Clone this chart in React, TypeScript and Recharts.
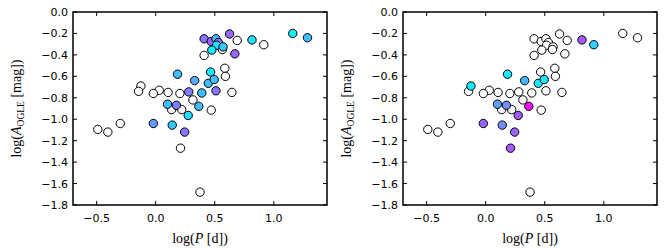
import React from 'react';
import { ScatterChart, Scatter, XAxis, YAxis, ReferenceArea } from 'recharts';

// log period [d]
const logP = [
  1.16, 1.285, 0.915, 0.815, 0.625, 0.69, 0.67, 0.41, 0.47, 0.51,
  0.53, 0.515, 0.57, 0.475, 0.565, 0.41, 0.465, 0.585, 0.59, 0.185,
  0.33, 0.445, 0.495, 0.51, 0.645, 0.39, 0.28, 0.205, 0.105, 0.03,
  -0.02, -0.125, -0.145, 0.315, 0.1, 0.175, 0.365, 0.47, 0.135, 0.22,
  0.275, -0.02, 0.14, 0.245, 0.21, 0.375, -0.49, -0.405, -0.3,
];
// log amplitude OGLE [mag]
const logA = [
  -0.2, -0.24, -0.305, -0.26, -0.205, -0.265, -0.39, -0.25, -0.275, -0.25,
  -0.285, -0.31, -0.325, -0.355, -0.35, -0.405, -0.56, -0.525, -0.6, -0.58,
  -0.64, -0.665, -0.63, -0.735, -0.75, -0.755, -0.745, -0.76, -0.75, -0.73,
  -0.76, -0.69, -0.74, -0.82, -0.86, -0.87, -0.88, -0.915, -0.91, -0.91,
  -0.965, -1.04, -1.055, -1.12, -1.27, -1.68, -1.095, -1.12, -1.04,
];
// colour-map parameter (cool map, 0 = cyan, 1 = magenta); null = open circle
const leftT: (number | null)[] = [
  0.08, 0.25, null, 0.12, 0.6, null, 0.6, 0.55, 0.62, 0.25,
  0.58, 0.1, 0.22, 0.08, null, null, 0.08, null, null, 0.25,
  0.33, 0.25, 0.25, 0.55, null, 0.25, 0.5, null, null, null,
  null, null, null, null, 0.25, 0.5, 0.25, null, null, null,
  0.15, 0.4, 0.22, 0.55, null, null, null, null, null,
];
const rightT: (number | null)[] = [
  null, null, 0.18, 0.65, null, null, null, null, null, null,
  null, null, null, null, null, null, null, null, null, 0.08,
  0.28, 0.1, 0.1, null, null, null, null, null, null, null,
  null, 0.08, null, null, 0.38, 0.45, 0.95, null, null, null,
  0.65, 0.6, 0.45, 0.6, 0.65, null, null, null, null,
];

const xTicks = [-0.5, 0, 0.5, 1.0];
const yTicks = [0, -0.2, -0.4, -0.6, -0.8, -1.0, -1.2, -1.4, -1.6, -1.8];
const X_DOMAIN: [number, number] = [-0.7, 1.45];
const Y_DOMAIN: [number, number] = [-1.8, 0];

const CHART_W = 335;
const CHART_H = 250;
const Y_AXIS_W = 73;
const X_AXIS_H = 45;
const MARGIN = { top: 12, right: 8, bottom: 0, left: 0 };
const PLOT_W = CHART_W - Y_AXIS_W - MARGIN.right;
const PLOT_H = CHART_H - MARGIN.top - X_AXIS_H;
const TICK_LEN = 4;
const TICK_FONT = '"DejaVu Sans", sans-serif';
const LABEL_FONT = '"Liberation Serif", "DejaVu Serif", serif';

const cool = (t: number) => {
  const r = Math.round(255 * t);
  const g = Math.round(255 * (1 - t));
  return `rgb(${r},${g},255)`;
};

const fmt = (v: number) => (v < 0 ? '\u2212' : '') + Math.abs(v).toFixed(1);

const Dot = (props: any) => {
  const { cx, cy, payload } = props;
  const t = payload.t;
  return (
    <circle cx={cx} cy={cy} r={4.2} fill={t == null ? '#ffffff' : cool(t)} stroke="#000" strokeWidth={1} />
  );
};

const XTick = (props: any) => {
  const { x, y, payload } = props;
  return (
    <g>
      <line x1={x} x2={x} y1={y} y2={y - TICK_LEN} stroke="#000" strokeWidth={1} />
      <line x1={x} x2={x} y1={y - PLOT_H} y2={y - PLOT_H + TICK_LEN} stroke="#000" strokeWidth={1} />
      <text x={x} y={y + 17} textAnchor="middle" fontSize={11} fontFamily={TICK_FONT} fill="#000">
        {fmt(payload.value)}
      </text>
    </g>
  );
};

const YTick = (props: any) => {
  const { x, y, payload } = props;
  return (
    <g>
      <line x1={x} x2={x + TICK_LEN} y1={y} y2={y} stroke="#000" strokeWidth={1} />
      <line x1={x + PLOT_W - TICK_LEN} x2={x + PLOT_W} y1={y} y2={y} stroke="#000" strokeWidth={1} />
      <text x={x - 5} y={y + 4} textAnchor="end" fontSize={11} fontFamily={TICK_FONT} fill="#000">
        {fmt(payload.value)}
      </text>
    </g>
  );
};

const XLabel = (props: any) => {
  const vb = props.viewBox || {};
  const cx = vb.x + vb.width / 2;
  const cy = vb.y + 38;
  return (
    <text x={cx} y={cy} textAnchor="middle" fontSize={14} fontFamily={LABEL_FONT} fill="#000">
      log(<tspan fontStyle="italic">P</tspan> [d])
    </text>
  );
};

const YLabel = (props: any) => {
  const vb = props.viewBox || {};
  const cx = vb.x + vb.width - 52;
  const cy = vb.y + vb.height / 2;
  return (
    <text
      x={cx}
      y={cy}
      transform={`rotate(-90, ${cx}, ${cy})`}
      textAnchor="middle"
      fontSize={14}
      fontFamily={LABEL_FONT}
      fill="#000"
    >
      log(<tspan fontStyle="italic">A</tspan>
      <tspan fontSize={9.5} dy={3}>OGLE</tspan>
      <tspan dy={-3}> [mag])</tspan>
    </text>
  );
};

function Panel({ tValues }: { tValues: (number | null)[] }) {
  const all = logP.map((x, i) => ({ x, y: logA[i], t: tValues[i] }));
  const open = all.filter((d) => d.t == null);
  const filled = all.filter((d) => d.t != null);
  return (
    <ScatterChart width={CHART_W} height={CHART_H} margin={MARGIN}>
      <XAxis
        type="number"
        dataKey="x"
        domain={X_DOMAIN}
        ticks={xTicks}
        interval={0}
        allowDataOverflow
        height={X_AXIS_H}
        tickSize={0}
        tickMargin={0}
        tickLine={false}
        axisLine={false}
        tick={(p: any) => <XTick {...p} />}
        label={(p: any) => <XLabel {...p} />}
      />
      <YAxis
        type="number"
        dataKey="y"
        domain={Y_DOMAIN}
        ticks={yTicks}
        interval={0}
        allowDataOverflow
        width={Y_AXIS_W}
        tickSize={0}
        tickMargin={0}
        tickLine={false}
        axisLine={false}
        tick={(p: any) => <YTick {...p} />}
        label={(p: any) => <YLabel {...p} />}
      />
      <ReferenceArea
        x1={X_DOMAIN[0]}
        x2={X_DOMAIN[1]}
        y1={Y_DOMAIN[0]}
        y2={Y_DOMAIN[1]}
        fill="none"
        fillOpacity={0}
        stroke="#000"
        strokeWidth={1.5}
        ifOverflow="visible"
      />
      <Scatter data={open} shape={Dot} isAnimationActive={false} />
      <Scatter data={filled} shape={Dot} isAnimationActive={false} />
    </ScatterChart>
  );
}

export default function App() {
  return (
    <div style={{ position: 'absolute', left: 0, top: 0, width: 670, height: 250, background: '#fff' }}>
      <div style={{ position: 'absolute', left: 0, top: 0 }}>
        <Panel tValues={leftT} />
      </div>
      <div style={{ position: 'absolute', left: 330, top: 0 }}>
        <Panel tValues={rightT} />
      </div>
    </div>
  );
}
